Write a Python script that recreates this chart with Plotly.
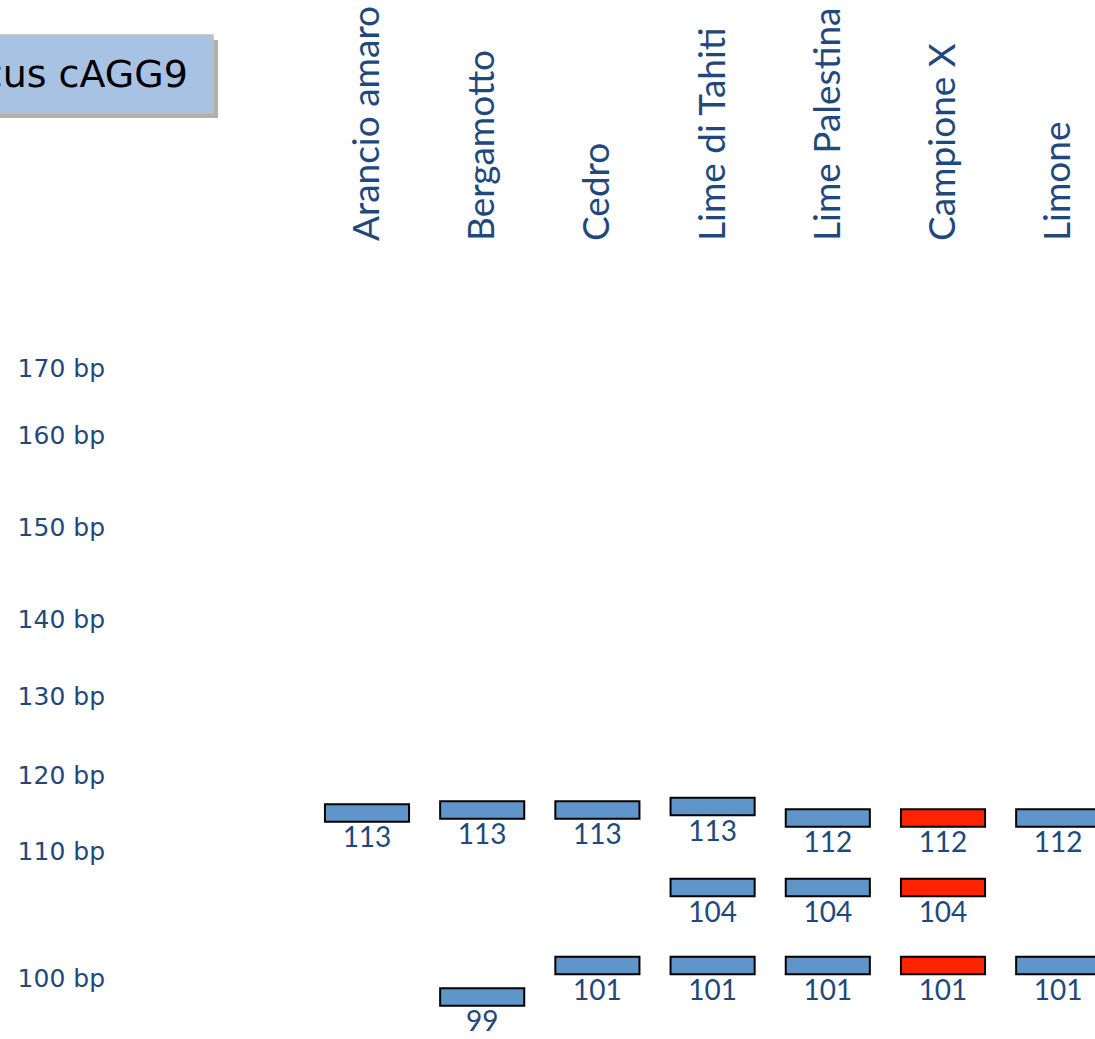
import plotly.graph_objects as go

# ---- data ----
title_text = "Locus cAGG9"

lanes = ["Arancio amaro", "Bergamotto", "Cedro", "Lime di Tahiti",
         "Lime Palestina", "Campione X", "Limone"]
sample_lane = "Campione X"

# Ladder (size in bp) and its apparent migration distance on the gel (arbitrary units)
ladder_bp = [170, 160, 150, 140, 130, 120, 110, 100]
ladder_migration = [11.8, 18.5, 27.7, 36.9, 44.6, 52.5, 60.1, 72.8]

# Bands: lane, allele size (bp), apparent migration distance
band_lane = ["Arancio amaro",
             "Bergamotto", "Bergamotto",
             "Cedro", "Cedro",
             "Lime di Tahiti", "Lime di Tahiti", "Lime di Tahiti",
             "Lime Palestina", "Lime Palestina", "Lime Palestina",
             "Campione X", "Campione X", "Campione X",
             "Limone", "Limone"]
band_bp = [113,
           113, 99,
           113, 101,
           113, 104, 101,
           112, 104, 101,
           112, 104, 101,
           112, 101]
band_migration = [56.3,
                  56.0, 74.7,
                  56.0, 71.55,
                  55.65, 63.75, 71.55,
                  56.8, 63.75, 71.55,
                  56.8, 63.75, 71.55,
                  56.8, 71.55]

# ---- styling ----
TXT = "#1f497d"
BLUE = "#5f95c9"
RED = "#ff2400"
BAND_T = 1.75      # band thickness in migration units
BAND_W = 0.73      # band width in lane units
LABEL_DY = 2.7     # size label offset below the band

W, H = 1095, 1039
ML, MT = 106, 250
plot_w, plot_h = W - ML, H - MT

fig = go.Figure()

for is_sample, col in [(False, BLUE), (True, RED)]:
    idx = [i for i, l in enumerate(band_lane) if (l == sample_lane) == is_sample]
    fig.add_trace(go.Bar(
        x=[band_lane[i] for i in idx],
        y=[BAND_T] * len(idx),
        base=[band_migration[i] - BAND_T / 2 for i in idx],
        width=BAND_W,
        marker=dict(color=col, line=dict(color="black", width=2)),
        hoverinfo="skip",
        showlegend=False,
    ))

fig.add_trace(go.Scatter(
    x=band_lane,
    y=[m + LABEL_DY for m in band_migration],
    mode="text",
    text=[str(v) for v in band_bp],
    textposition="middle center",
    textfont=dict(family="Lato", size=28, color=TXT),
    cliponaxis=False,
    hoverinfo="skip",
    showlegend=False,
))

lane_step = 115.2
lane0_px = 367
fig.update_layout(
    width=W, height=H,
    margin=dict(l=ML, r=0, t=MT, b=0),
    paper_bgcolor="white", plot_bgcolor="white",
    barmode="overlay",
    xaxis=dict(
        type="category", categoryorder="array", categoryarray=lanes,
        side="top", tickangle=-90, ticklabelstandoff=8,
        range=[(ML - lane0_px) / lane_step, (W - lane0_px) / lane_step],
        tickfont=dict(family="Lato", size=37, color=TXT),
        showgrid=False, showline=False, zeroline=False, ticks="",
    ),
    yaxis=dict(
        range=[plot_h / 10, 0],
        tickmode="array", tickvals=ladder_migration,
        ticktext=[f"{v} bp" for v in ladder_bp],
        tickfont=dict(family="DejaVu Sans", size=25, color=TXT),
        showgrid=False, showline=False, zeroline=False, ticks="",
    ),
)

# title box with drop shadow, partly cut by the left edge as in the slide
bx0 = -(ML + 60) / plot_w
bx1 = (213 - ML) / plot_w
by0 = (H - 113) / plot_h
by1 = (H - 35) / plot_h
sx, sy = 5 / plot_w, 5 / plot_h
fig.add_shape(type="rect", xref="paper", yref="paper",
              x0=bx0 + sx, x1=bx1 + sx, y0=by0 - sy, y1=by1 - sy,
              fillcolor="rgba(80,80,80,0.45)", line=dict(width=0), layer="above")
fig.add_shape(type="rect", xref="paper", yref="paper",
              x0=bx0, x1=bx1, y0=by0, y1=by1,
              fillcolor="#a7c2e2", line=dict(color="#bfbfbf", width=1.5), layer="above")
fig.add_annotation(
    xref="paper", yref="paper", x=(190 - ML) / plot_w, y=(by0 + by1) / 2,
    xanchor="right", yanchor="middle", showarrow=False,
    text=title_text, font=dict(family="DejaVu Sans", size=38, color="black"),
)

fig.write_html("out.html")
